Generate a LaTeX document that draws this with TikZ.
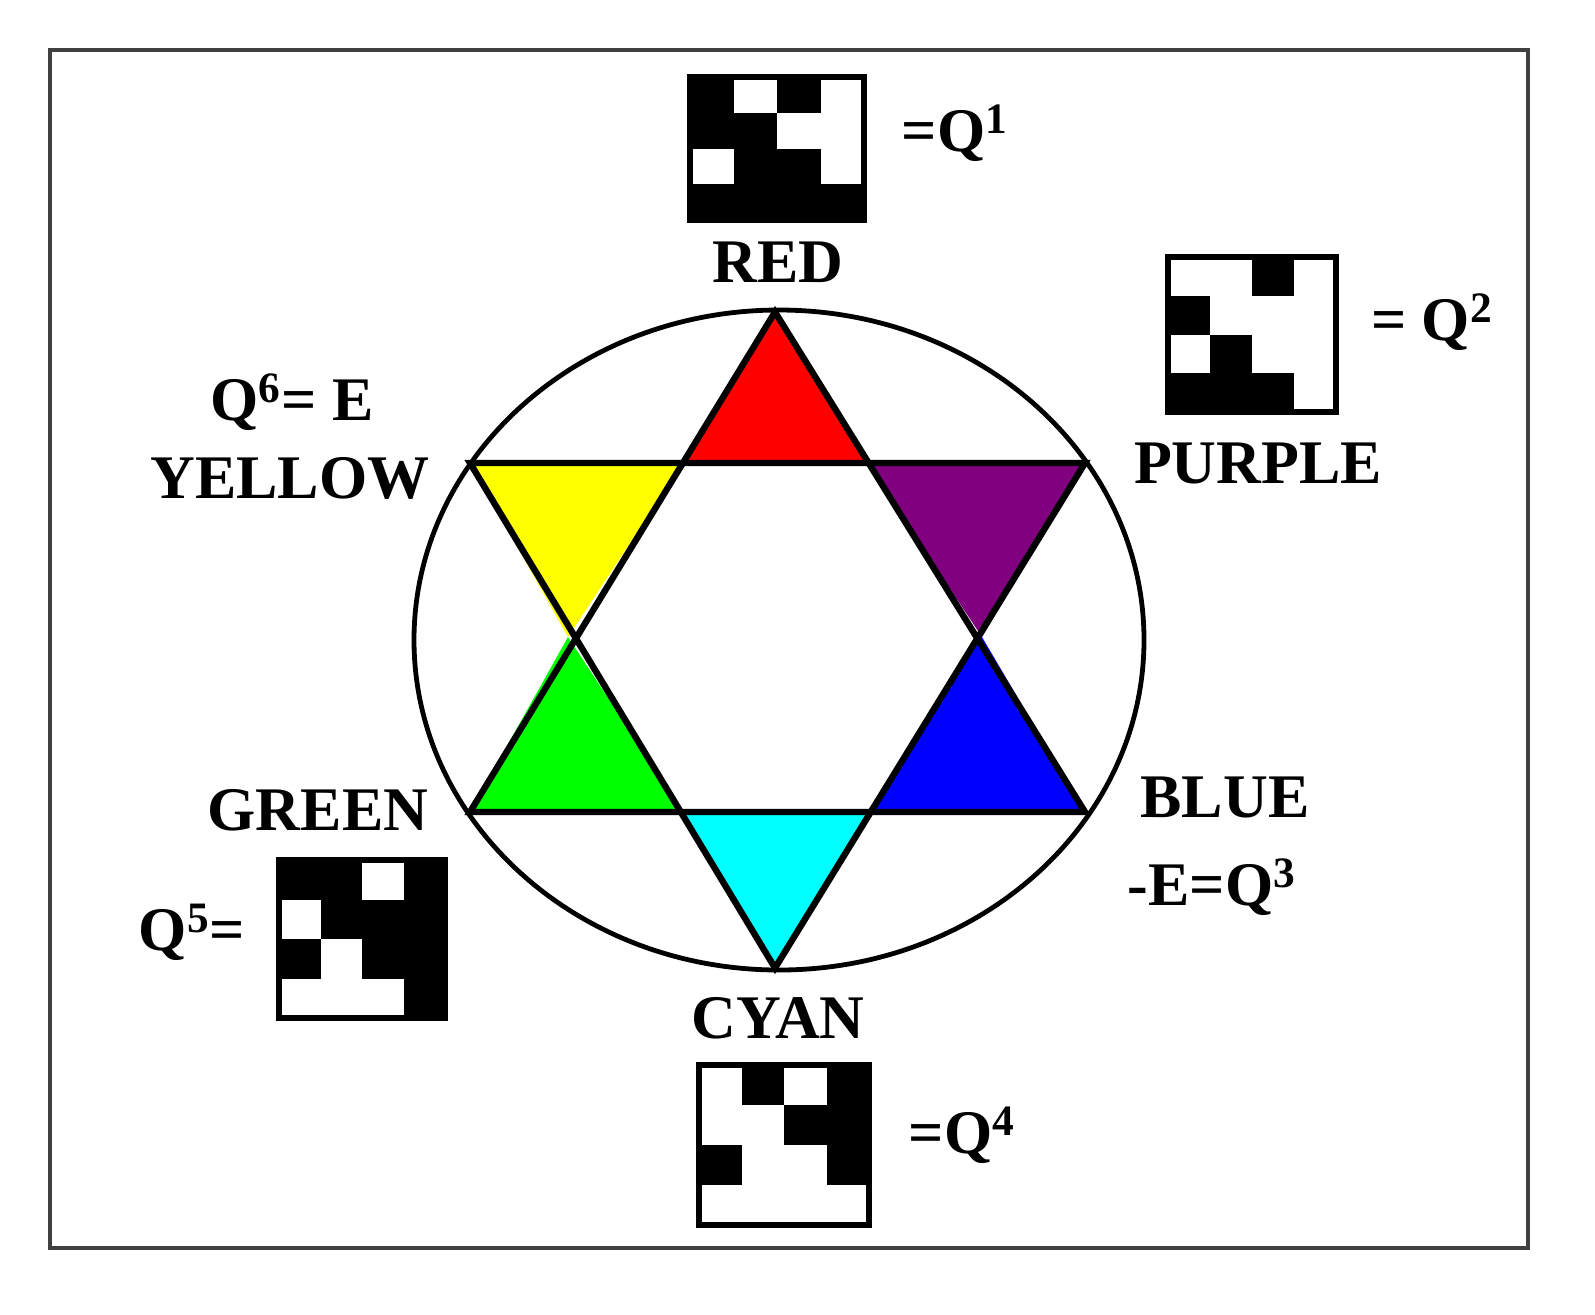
\documentclass[tikz,border=0pt]{standalone}
\usepackage{fontspec}
\setmainfont{Liberation Serif}
\definecolor{cRed}{RGB}{255,0,0}
\definecolor{cPur}{RGB}{128,0,128}
\definecolor{cBlu}{RGB}{0,0,255}
\definecolor{cCya}{RGB}{0,255,255}
\definecolor{cGre}{RGB}{0,255,0}
\definecolor{cYel}{RGB}{255,255,0}
\newcommand{\mymat}[5]{%
  \fill[white] (#1,#2) rectangle (#3,#4);
  \foreach \r/\c in {#5} {
    \fill[black] ({#1+(#3-#1)*(\c-1)/4},{#2+(#4-#2)*(\r-1)/4}) rectangle ({#1+(#3-#1)*\c/4},{#2+(#4-#2)*\r/4});
  }
  \draw[line width=3pt] (#1,#2) rectangle (#3,#4);}
\begin{document}
\begin{tikzpicture}[x=0.5pt,y=-0.5pt,
  lbl/.style={font=\fontsize{31}{32}\selectfont\bfseries, inner sep=0pt},
  edge/.style={line width=3.2pt, line join=miter}]
\clip (0,0) rectangle (1595,1314);
\useasboundingbox (0,0) rectangle (1595,1314);
\draw[line width=2.4pt, black!75] (50,50) rectangle (1528,1248);
% colored triangles
\fill[cRed] (775,312) -- (683,463) -- (867,463) -- cycle;
\fill[cPur] (867,463) -- (1085,463) -- (982,637) -- cycle;
\fill[cBlu] (982,637) -- (1085,812) -- (867,812) -- cycle;
\fill[cCya] (867,812) -- (683,812) -- (775,968) -- cycle;
\fill[cGre] (683,812) -- (470,812) -- (568,637) -- cycle;
\fill[cYel] (568,637) -- (470,463) -- (683,463) -- cycle;
\draw[line width=2.4pt] (779,640) ellipse [x radius=365, y radius=330];
\coordinate (t1) at (775,312); \coordinate (t2) at (470,812); \coordinate (t3) at (1085,812);
\coordinate (d1) at (470,463); \coordinate (d2) at (1085,463); \coordinate (d3) at (775,968);
\draw[edge] (t1) -- (t2) -- (t3) -- cycle;
\draw[edge] (d1) -- (d2) -- (d3) -- cycle;
% labels
\node[lbl] (red) at (778,262) {RED};
\node[lbl] (pur) at (1258,463) {PURPLE};
\node[lbl] (yel) at (290,478) {YELLOW};
\node[lbl] (q6) at (292,402) {Q$^{\mathbf 6}$= E};
\node[lbl] (blu) at (1225,797) {BLUE};
\node[lbl] (q3) at (1212,887) {-E=Q$^{\mathbf 3}$};
\node[lbl] (gre) at (318,810) {GREEN};
\node[lbl] (q5) at (192,932) {Q$^{\mathbf 5}$=};
\node[lbl] (cya) at (778,1018) {CYAN};
\node[lbl] (q4) at (962,1135) {=Q$^{\mathbf 4}$};
\node[lbl] (q1) at (955,133) {=Q$^{\mathbf 1}$};
\node[lbl] (q2) at (1432,322) {= Q$^{\mathbf 2}$};
\mymat{690}{77}{864}{220}{1/1,1/3,2/1,2/2,3/2,3/3,4/1,4/2,4/3,4/4}
\mymat{1168}{257}{1336}{412}{1/3,2/1,3/2,4/1,4/2,4/3}
\mymat{279}{860}{445}{1018}{1/1,1/2,1/4,2/2,2/3,2/4,3/1,3/3,3/4,4/4}
\mymat{699}{1065}{869}{1225}{1/2,1/4,2/3,2/4,3/1,3/4}
\end{tikzpicture}
\end{document}
